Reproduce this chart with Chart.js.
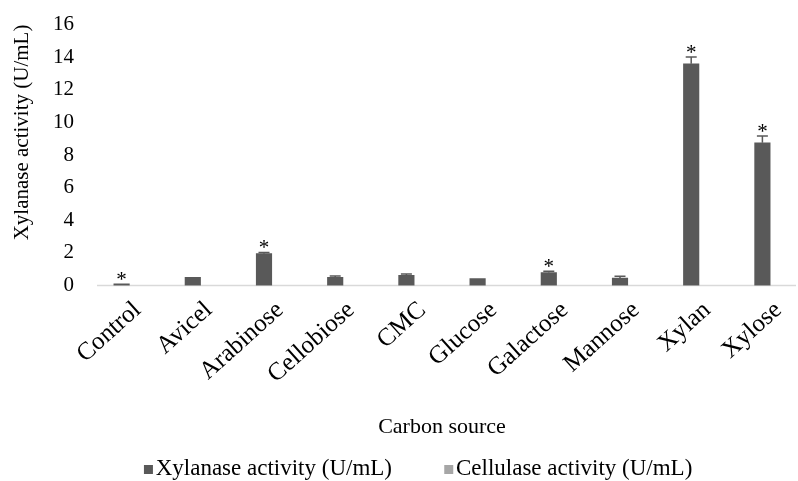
<!DOCTYPE html>
<html>
<head>
<meta charset="utf-8">
<script src="https://cdn.jsdelivr.net/npm/chart.js@4/dist/chart.umd.min.js"></script>
<style>
  html, body { margin: 0; padding: 0; background: #ffffff; overflow: hidden; }
  #wrap { width: 798px; height: 481px; }
</style>
</head>
<body>
<div id="wrap"><canvas id="c" width="798" height="481"></canvas></div>
<script>
const categories = ['Control', 'Avicel', 'Arabinose', 'Cellobiose', 'CMC', 'Glucose', 'Galactose', 'Mannose', 'Xylan', 'Xylose'];
const xylanase = [0.1, 0.5, 1.95, 0.5, 0.62, 0.42, 0.8, 0.45, 13.6, 8.75];
const xylanaseErr = [0, 0, 0.08, 0.08, 0.08, 0, 0.08, 0.12, 0.42, 0.42];
const cellulase = [0, 0, 0, 0, 0, 0, 0, 0, 0, 0];
const significant = [true, false, true, false, false, false, true, false, true, true];
const yTicks = [0, 2, 4, 6, 8, 10, 12, 14, 16];
const seriesNames = ['Xylanase activity (U/mL)', 'Cellulase activity (U/mL)'];

const FONT = 'Liberation Serif, Times New Roman, serif';
const DARK = '#595959';
const LIGHT = '#a6a6a6';

// legend marker: a small square placed at the right end of a wider transparent image
const MARK_W = 42.5;
const MARK_EXTRA = 9.5;
function makeMarker(color) {
  const cv = document.createElement('canvas');
  cv.width = Math.round(MARK_W + 2 * MARK_EXTRA);
  cv.height = 9;
  const c = cv.getContext('2d');
  c.fillStyle = color;
  c.fillRect(cv.width - 10, 0, 9, 9);
  return cv;
}
const markers = [makeMarker(DARK), makeMarker(LIGHT)];

const baselinePlugin = {
  id: 'baseline',
  beforeDatasetsDraw(chart) {
    const {ctx, chartArea, scales} = chart;
    const y = Math.round(scales.y.getPixelForValue(0)) - 0.5;
    ctx.save();
    ctx.strokeStyle = '#d9d9d9';
    ctx.lineWidth = 1.5;
    ctx.beginPath();
    ctx.moveTo(chartArea.left + 11, y);
    ctx.lineTo(chartArea.right - 2, y);
    ctx.stroke();
    ctx.restore();
  }
};

const errorPlugin = {
  id: 'errorbars',
  afterDatasetsDraw(chart) {
    const {ctx, scales} = chart;
    const meta = chart.getDatasetMeta(0);
    ctx.save();
    meta.data.forEach((bar, i) => {
      const x = bar.x;
      const top = scales.y.getPixelForValue(xylanase[i]);
      const capY = scales.y.getPixelForValue(xylanase[i] + xylanaseErr[i]);
      if (xylanaseErr[i] > 0) {
        ctx.strokeStyle = DARK;
        ctx.lineWidth = 1.5;
        ctx.beginPath();
        ctx.moveTo(x, top);
        ctx.lineTo(x, capY);
        ctx.moveTo(x - 5.5, capY);
        ctx.lineTo(x + 5.5, capY);
        ctx.stroke();
      }
      if (significant[i]) {
        ctx.fillStyle = '#000000';
        ctx.font = '21px ' + FONT;
        ctx.textAlign = 'center';
        ctx.textBaseline = 'alphabetic';
        ctx.fillText('*', x, capY + 2);
      }
    });
    ctx.restore();
  }
};

const legendShift = {
  id: 'legendShift',
  afterLayout(chart) {
    const lg = chart.legend;
    if (lg) {
      lg.top += 9.5;
      lg.bottom += 9.5;
      lg.left -= 4;
    }
  }
};

new Chart(document.getElementById('c'), {
  type: 'bar',
  data: {
    labels: categories,
    datasets: [
      {
        label: seriesNames[0],
        data: xylanase,
        backgroundColor: DARK,
        borderWidth: 0,
        grouped: false,
        barThickness: 15.5
      },
      {
        label: seriesNames[1],
        data: cellulase,
        backgroundColor: LIGHT,
        borderWidth: 0,
        grouped: false,
        barThickness: 15.5
      }
    ]
  },
  options: {
    responsive: false,
    animation: false,
    devicePixelRatio: 1,
    layout: { padding: { top: 22, right: 0, bottom: 0, left: 0 } },
    plugins: {
      legend: {
        position: 'bottom',
        labels: {
          usePointStyle: true,
          pointStyleWidth: MARK_W,
          boxHeight: 9,
          padding: 10,
          color: '#000000',
          font: { family: FONT, size: 23 },
          generateLabels(chart) {
            const items = Chart.defaults.plugins.legend.labels.generateLabels(chart);
            items.forEach((it, i) => { it.pointStyle = markers[i]; });
            return items;
          }
        }
      },
      tooltip: { enabled: false },
      title: { display: false }
    },
    scales: {
      x: {
        grid: { display: false, drawTicks: false },
        border: { display: false },
        ticks: {
          color: '#000000',
          font: { family: FONT, size: 25 },
          minRotation: 42,
          maxRotation: 42,
          padding: 10,
          labelOffset: 16
        },
        title: {
          display: true,
          text: 'Carbon source',
          color: '#000000',
          font: { family: FONT, size: 22, lineHeight: 1 },
          padding: { top: 4, bottom: 0 }
        },
        afterFit(scale) { scale.height = 152.5; }
      },
      y: {
        min: 0,
        max: 16,
        grid: { display: false, drawTicks: false },
        border: { display: false },
        afterBuildTicks(scale) { scale.ticks = yTicks.map(v => ({ value: v })); },
        ticks: {
          color: '#000000',
          font: { family: FONT, size: 21 },
          padding: 12
        },
        title: {
          display: true,
          align: 'end',
          text: 'Xylanase activity (U/mL)',
          color: '#000000',
          font: { family: FONT, size: 21 },
          padding: { top: 9.5, bottom: 0 }
        },
        afterFit(scale) { scale.width = 86; }
      }
    }
  },
  plugins: [baselinePlugin, errorPlugin, legendShift]
});
</script>
</body>
</html>
